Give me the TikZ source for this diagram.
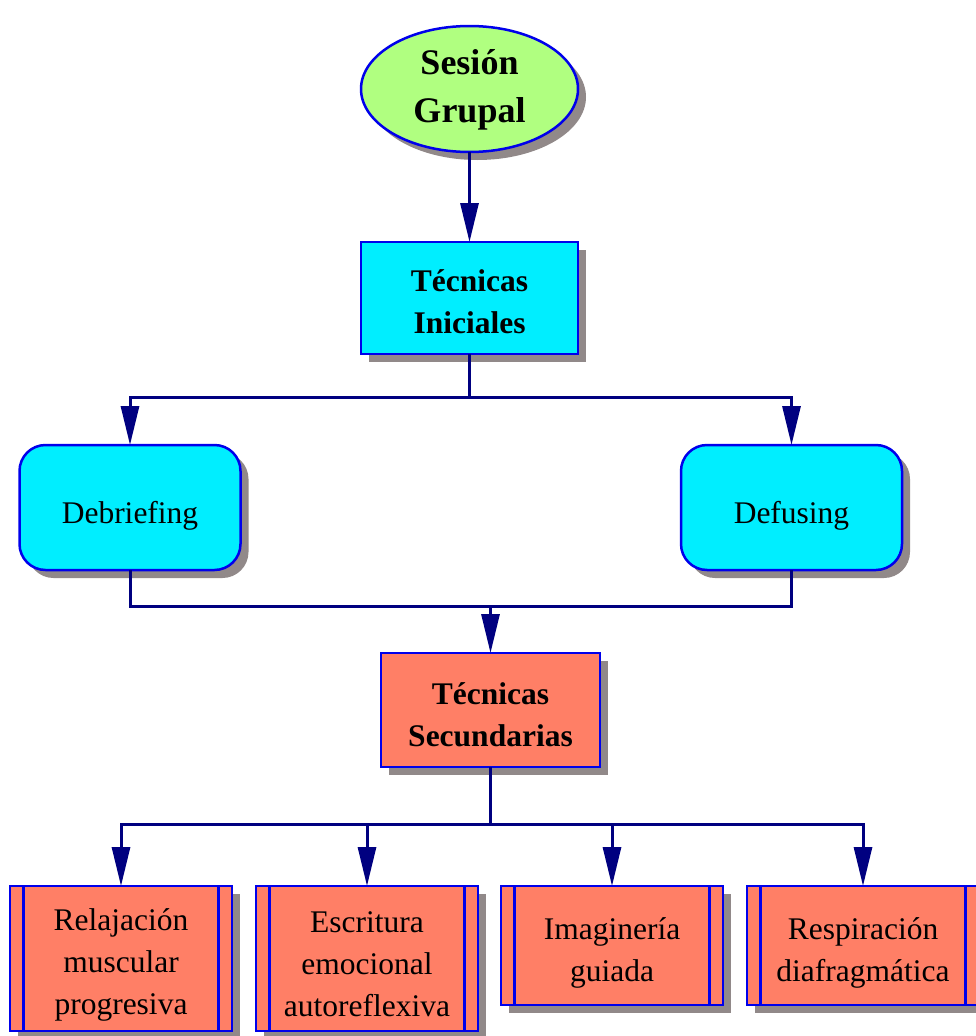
\documentclass[tikz,border=0pt]{standalone}
\usepackage{fontspec}
\setmainfont{Liberation Serif}
\usetikzlibrary{shapes.geometric,arrows.meta,shadows}
\definecolor{navyline}{RGB}{0,0,128}
\definecolor{bordblue}{RGB}{0,0,235}
\definecolor{shadowgray}{RGB}{145,137,137}
\definecolor{greenfill}{RGB}{176,255,128}
\definecolor{cyanfill}{RGB}{0,238,255}
\definecolor{salmonfill}{RGB}{255,127,102}
\tikzset{
  shad/.style={drop shadow={shadow xshift=8pt,shadow yshift=-8pt,fill=shadowgray,opacity=1}},
  basebox/.style={draw=bordblue,line width=2.5pt,inner sep=0pt,outer sep=0pt,shad},
  ovalnode/.style={ellipse,draw=bordblue,line width=2.5pt,fill=greenfill,inner sep=0pt,outer sep=0pt,shad,
    minimum width=217pt,minimum height=126pt},
  txt/.style={align=center,inner sep=0pt,font=\fontsize{31.5}{42}\selectfont},
  btxt/.style={align=center,inner sep=0pt,font=\fontsize{31.5}{42}\selectfont\bfseries},
  titletext/.style={align=center,font=\fontsize{36}{48}\selectfont\bfseries,inner sep=0pt},
  headbox/.style={basebox,fill=cyanfill,minimum width=217pt,minimum height=112pt},
  secbox/.style={basebox,fill=salmonfill,minimum width=219pt,minimum height=114pt},
  roundbox/.style={basebox,fill=cyanfill,rounded corners=26pt,minimum width=221pt,minimum height=125pt},
  subbox/.style={basebox,fill=salmonfill,minimum width=222pt,
    path picture={
      \draw[bordblue,line width=2.5pt] ([xshift=13.5pt]path picture bounding box.north west) -- ([xshift=13.5pt]path picture bounding box.south west);
      \draw[bordblue,line width=2.5pt] ([xshift=-13.5pt]path picture bounding box.north east) -- ([xshift=-13.5pt]path picture bounding box.south east);
    }},
  conn/.style={draw=navyline,line width=3pt},
  arr/.style={conn,-{Triangle[length=39pt,width=18pt]}}
}
\begin{document}
\begin{tikzpicture}[x=1pt,y=-1pt]
\useasboundingbox (0,0) rectangle (976,1036);
\node[ovalnode] (ses) at (469.5,89) {};
\node[titletext] (sestext) at ([yshift=-1pt]ses.center) {Sesión\\Grupal};
\node[headbox] (ini) at (469.5,298) {};
\node[btxt] (initext) at ([yshift=-4pt]ini.center) {Técnicas\\Iniciales};
\node[roundbox] (deb) at (130,507.5) {};
\node[txt] (debtext) at ([yshift=-8pt]deb.center) {Debriefing};
\node[roundbox] (def) at (791.5,507.5) {};
\node[txt] (deftext) at ([yshift=-8pt]def.center) {Defusing};
\node[secbox] (sec) at (490.5,710) {};
\node[btxt] (sectext) at ([yshift=-4.5pt]sec.center) {Técnicas\\Secundarias};
\node[subbox,minimum height=145pt] (b1) at (121,958.5) {};
\node[txt] (b1text) at ([yshift=-6pt]b1.center) {Relajación\\muscular\\progresiva};
\node[subbox,minimum height=145pt] (b2) at (367,958.5) {};
\node[txt] (b2text) at ([yshift=-6pt]b2.center) {Escritura\\emocional\\autoreflexiva};
\node[subbox,minimum height=119pt] (b3) at (612,945.5) {};
\node[txt] (b3text) at ([yshift=-7pt]b3.center) {Imaginería\\guiada};
\node[subbox,minimum height=119pt,minimum width=232pt] (b4) at (863,945.5) {};
\node[txt] (b4text) at ([yshift=-7pt]b4.center) {Respiración\\diafragmática};
\coordinate (j1) at (469.5,397);
\coordinate (j2) at (490.5,606);
\coordinate (j3) at (490.5,824);
\draw[arr] (ses.south) -- (ini.north);
\draw[conn] (ini.south) -- (j1);
\draw[arr] (j1) -| (deb.north);
\draw[arr] (j1) -| (def.north);
\draw[conn] (deb.south) |- (j2) -| (def.south);
\draw[arr] (j2) -- (sec.north);
\draw[conn] (sec.south) -- (j3);
\draw[arr] (j3) -| (b1.north);
\draw[arr] (j3) -| (b2.north);
\draw[arr] (j3) -| (b3.north);
\draw[arr] (j3) -| (b4.north);
\end{tikzpicture}
\end{document}
